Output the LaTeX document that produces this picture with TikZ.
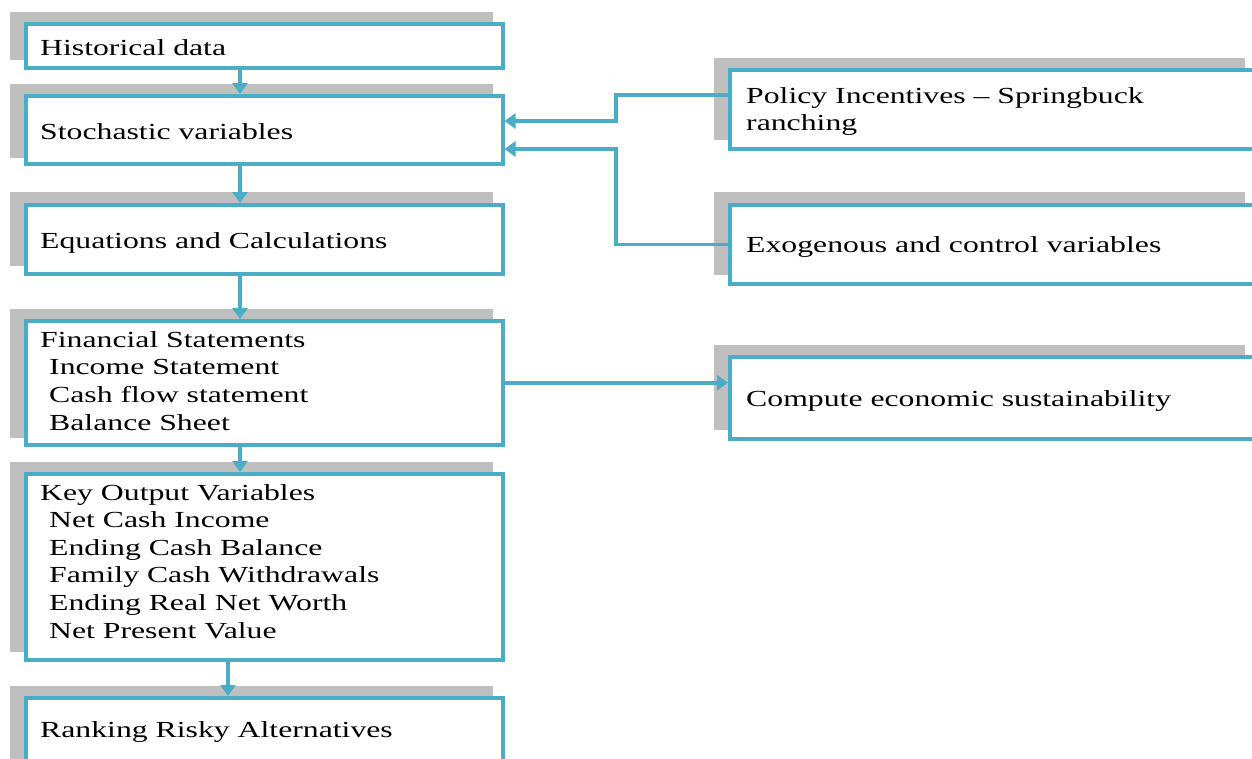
\documentclass[tikz,border=0pt]{standalone}
\usepackage{fontspec}
\setmainfont[FakeStretch=1.38]{Liberation Serif}
\usetikzlibrary{arrows.meta}
\definecolor{bl}{HTML}{4BACC6}
\definecolor{sh}{HTML}{BFBFBF}
\begin{document}
\begin{tikzpicture}[x=1pt,y=-1pt,
  box/.style={draw=bl, line width=3.5pt, fill=white, rectangle, inner sep=0pt, anchor=north west},
  shad/.style={fill=sh, rectangle, inner sep=0pt, outer sep=0pt, anchor=north west},
  lbl/.style={anchor=base west, inner sep=0pt, font=\fontsize{23}{27}\selectfont},
  arr/.style={draw=bl, line width=3.5pt, -{Triangle[length=11pt,width=15pt]}}
]
\useasboundingbox (0,0) rectangle (1252,758);
\clip (0,0) rectangle (1252,758);

% left column
\node[shad, minimum width=483pt, minimum height=48pt]  (s1) at (10,12) {};
\node[box,  minimum width=477pt, minimum height=44pt]  (b1) at (24,22) {};
\node[shad, minimum width=483pt, minimum height=74pt]  (s2) at (10,84) {};
\node[box,  minimum width=477pt, minimum height=68pt]  (b2) at (24,94) {};
\node[shad, minimum width=483pt, minimum height=74pt]  (s3) at (10,192) {};
\node[box,  minimum width=477pt, minimum height=69pt]  (b3) at (24,203) {};
\node[shad, minimum width=483pt, minimum height=129pt] (s4) at (10,309) {};
\node[box,  minimum width=477pt, minimum height=124pt] (b4) at (24,319) {};
\node[shad, minimum width=483pt, minimum height=190pt] (s5) at (10,462) {};
\node[box,  minimum width=477pt, minimum height=186pt] (b5) at (24,472) {};
\node[shad, minimum width=483pt, minimum height=100pt] (s6) at (10,686) {};
\node[box,  minimum width=477pt, minimum height=81pt]  (b6) at (24,696) {};

% right column
\node[shad, minimum width=531pt, minimum height=82pt] (sp) at (714,58) {};
\node[box,  minimum width=531pt, minimum height=79pt] (p)  at (728,68) {};
\node[shad, minimum width=531pt, minimum height=83pt] (se) at (714,192) {};
\node[box,  minimum width=531pt, minimum height=79pt] (e)  at (728,203) {};
\node[shad, minimum width=531pt, minimum height=85pt] (sc) at (714,345) {};
\node[box,  minimum width=531pt, minimum height=82pt] (c)  at (728,355) {};

% texts
\node[lbl] (t1) at (40,55) {Historical data};
\node[lbl] (t2) at (40,139) {Stochastic variables};
\node[lbl] (t3) at (40,248) {Equations and Calculations};
\node[lbl] (t4a) at (40,347) {Financial Statements};
\node[lbl] (t4b) at (49,374) {Income Statement};
\node[lbl] (t4c) at (49,402) {Cash flow statement};
\node[lbl] (t4d) at (49,430) {Balance Sheet};
\node[lbl] (t5a) at (40,500) {Key Output Variables};
\node[lbl] (t5b) at (49,527) {Net Cash Income};
\node[lbl] (t5c) at (49,555) {Ending Cash Balance};
\node[lbl] (t5d) at (49,582) {Family Cash Withdrawals};
\node[lbl] (t5e) at (49,610) {Ending Real Net Worth};
\node[lbl] (t5f) at (49,638) {Net Present Value};
\node[lbl] (t6) at (40,737) {Ranking Risky Alternatives};
\node[lbl] (tpa) at (746,103) {Policy Incentives -- Springbuck};
\node[lbl] (tpb) at (746,130) {ranching};
\node[lbl] (te) at (746,252) {Exogenous and control variables};
\node[lbl] (tc) at (746,406) {Compute economic sustainability};

% connectors
\coordinate (xa) at (240,0);
\coordinate (xb) at (228,0);
\coordinate (xv) at (616,0);
\coordinate (y1) at (0,95);
\coordinate (y2) at (0,121);
\coordinate (y3) at (0,149);
\draw[arr] (b1.south -| xa) -- (b2.north -| xa);
\draw[arr] (b2.south -| xa) -- (b3.north -| xa);
\draw[arr] (b3.south -| xa) -- (b4.north -| xa);
\draw[arr] (b4.south -| xa) -- (b5.north -| xa);
\draw[arr] (b5.south -| xb) -- (b6.north -| xb);
\draw[arr] (p.west |- y1) -- (xv |- y1) -- (xv |- y2) -- (b2.east |- y2);
\draw[arr] (e.west) -- (xv |- e.west) -- (xv |- y3) -- (b2.east |- y3);
\draw[arr] (b4.east) -- (c.west |- b4.east);
\end{tikzpicture}
\end{document}
